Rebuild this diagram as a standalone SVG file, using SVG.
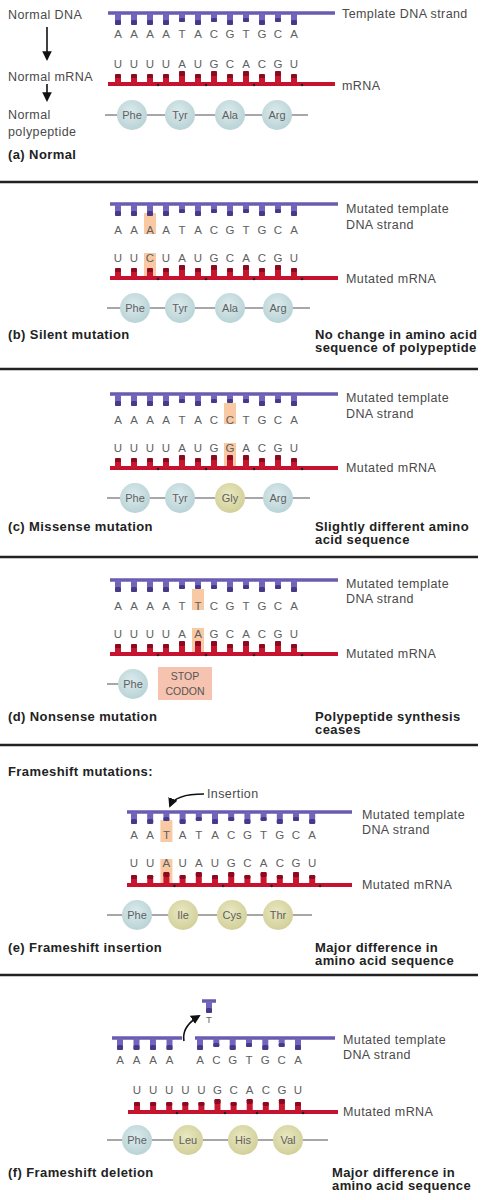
<svg xmlns="http://www.w3.org/2000/svg" xmlns:xlink="http://www.w3.org/1999/xlink" width="489" height="1200" viewBox="0 0 489 1200">
<style>
text{font-family:"Liberation Sans",Arial,sans-serif}
.lbl{font-size:12.5px;fill:#4a4a4a;letter-spacing:0.4px}
.ttl{font-size:13px;font-weight:bold;fill:#222;letter-spacing:0.4px}
.nt{font-size:11.5px;fill:#5f5f5f;text-anchor:middle}
.aa{font-size:11px;fill:#5f5f5f;text-anchor:middle}
.sc{font-size:10.5px;fill:#555;text-anchor:middle}
.sep{stroke:#222;stroke-width:2.5}
.dna{stroke:#6b5bb0;stroke-width:3.5;fill:none}
.rna{stroke:#c4122f;stroke-width:3.8;fill:none}
.pep{stroke:#8a8a8a;stroke-width:1.5}
.hl{fill:#f8c9a3}
.cb{fill:url(#gb)}
.cy{fill:url(#gy)}
.dot{fill:#222}
.arr{stroke:#111;stroke-width:1.6;fill:none}
</style>
<defs>
<radialGradient id="gb" cx="0.45" cy="0.4" r="0.6"><stop offset="0" stop-color="#dcebed"/><stop offset="1" stop-color="#b9d3d6"/></radialGradient>
<radialGradient id="gy" cx="0.45" cy="0.4" r="0.6"><stop offset="0" stop-color="#e9e8c2"/><stop offset="1" stop-color="#d2d099"/></radialGradient>
<g id="dP"><rect x="-3" y="0" width="6" height="12" rx="1.2" fill="#7364bb"/><rect x="-3" y="7" width="6" height="5" rx="1.5" fill="#47398a"/></g>
<g id="dY"><rect x="-3" y="0" width="6" height="9" rx="1.2" fill="#7364bb"/><rect x="-3" y="5" width="6" height="4" rx="1.5" fill="#47398a"/></g>
<g id="rP"><rect x="-3" y="-13" width="6" height="13" rx="1.2" fill="#c8162f"/><rect x="-3" y="-13" width="6" height="5" rx="1.5" fill="#8b0a20"/></g>
<g id="rY"><rect x="-3" y="-10" width="6" height="10" rx="1.2" fill="#c8162f"/><rect x="-3" y="-10" width="6" height="4" rx="1.5" fill="#8b0a20"/></g>
<marker id="ah" viewBox="0 0 10 10" refX="8" refY="5" markerWidth="6" markerHeight="6" orient="auto"><path d="M0,0 L10,5 L0,10 z" fill="#111"/></marker>
</defs>

<g id="separators">
<line class="sep" x1="0" y1="182" x2="478" y2="182"/>
<line class="sep" x1="0" y1="369" x2="478" y2="369"/>
<line class="sep" x1="0" y1="557" x2="478" y2="557"/>
<line class="sep" x1="0" y1="745" x2="478" y2="745"/>
<line class="sep" x1="0" y1="975" x2="478" y2="975"/>
</g>

<!-- Panel a -->
<g id="panel-a">
<g id="a-labels">
<text class="lbl" x="8" y="19">Normal DNA</text>
<text class="lbl" x="8" y="81">Normal mRNA</text>
<text class="lbl" x="8" y="119">Normal</text>
<text class="lbl" x="8" y="136">polypeptide</text>
<text class="ttl" x="8" y="159">(a) Normal</text>
<text class="lbl" x="342" y="18">Template DNA strand</text>
<text class="lbl" x="342" y="90">mRNA</text>
</g>
<g id="a-dna" transform="translate(0,13)">
<line class="dna" x1="108" y1="0" x2="335" y2="0"/>
<use href="#dP" x="118"/><use href="#dP" x="134"/><use href="#dP" x="150"/><use href="#dP" x="166"/><use href="#dY" x="182"/><use href="#dP" x="198"/><use href="#dY" x="214"/><use href="#dP" x="230"/><use href="#dY" x="246"/><use href="#dP" x="262"/><use href="#dY" x="278"/><use href="#dP" x="294"/>
<text class="nt" x="118 134 150 166 182 198 214 230 246 262 278 294" y="25">AAAATACGTGCA</text>
</g>
<g id="a-mrna" transform="translate(0,84)">
<line class="rna" x1="108" y1="0" x2="335" y2="0"/>
<use href="#rY" x="118"/><use href="#rY" x="134"/><use href="#rY" x="150"/><use href="#rY" x="166"/><use href="#rP" x="182"/><use href="#rY" x="198"/><use href="#rP" x="214"/><use href="#rY" x="230"/><use href="#rP" x="246"/><use href="#rY" x="262"/><use href="#rP" x="278"/><use href="#rY" x="294"/>
<circle class="dot" cx="158" cy="1" r="1.3"/><circle class="dot" cx="206" cy="1" r="1.3"/><circle class="dot" cx="254" cy="1" r="1.3"/><circle class="dot" cx="302" cy="1" r="1.3"/>
<text class="nt" x="118 134 150 166 182 198 214 230 246 262 278 294" y="-16">UUUUAUGCACGU</text>
</g>
<line class="pep" x1="105" y1="115" x2="308" y2="115"/>
<g id="a-phe"><circle class="cb" cx="132" cy="115" r="15"/><text class="aa" x="132" y="119">Phe</text></g>
<g id="a-tyr"><circle class="cb" cx="180" cy="115" r="15"/><text class="aa" x="180" y="119">Tyr</text></g>
<g id="a-ala"><circle class="cb" cx="230" cy="115" r="15"/><text class="aa" x="230" y="119">Ala</text></g>
<g id="a-arg"><circle class="cb" cx="277" cy="115" r="15"/><text class="aa" x="277" y="119">Arg</text></g>
</g>

<!-- Panel b -->
<g id="panel-b">
<g id="b-labels">
<text class="lbl" x="346" y="213">Mutated template</text>
<text class="lbl" x="346" y="229">DNA strand</text>
<text class="lbl" x="346" y="283">Mutated mRNA</text>
<text class="ttl" x="8" y="339">(b) Silent mutation</text>
<text class="ttl" x="315" y="339">No change in amino acid</text>
<text class="ttl" x="315" y="352">sequence of polypeptide</text>
</g>
<g id="b-dna" transform="translate(0,204)">
<rect class="hl" x="144" y="9" width="12" height="21"/>
<line class="dna" x1="110" y1="0" x2="338" y2="0"/>
<use href="#dP" x="118"/><use href="#dP" x="134"/><use href="#dP" x="150"/><use href="#dP" x="166"/><use href="#dY" x="182"/><use href="#dP" x="198"/><use href="#dY" x="214"/><use href="#dP" x="230"/><use href="#dY" x="246"/><use href="#dP" x="262"/><use href="#dY" x="278"/><use href="#dP" x="294"/>
<text class="nt" x="118 134 150 166 182 198 214 230 246 262 278 294" y="30">AAAATACGTGCA</text>
</g>
<g id="b-mrna" transform="translate(0,278)">
<rect class="hl" x="144" y="-25" width="12" height="24"/>
<line class="rna" x1="110" y1="0" x2="338" y2="0"/>
<use href="#rY" x="118"/><use href="#rY" x="134"/><use href="#rY" x="150"/><use href="#rY" x="166"/><use href="#rP" x="182"/><use href="#rY" x="198"/><use href="#rP" x="214"/><use href="#rY" x="230"/><use href="#rP" x="246"/><use href="#rY" x="262"/><use href="#rP" x="278"/><use href="#rY" x="294"/>
<circle class="dot" cx="158" cy="1" r="1.3"/><circle class="dot" cx="206" cy="1" r="1.3"/><circle class="dot" cx="254" cy="1" r="1.3"/><circle class="dot" cx="302" cy="1" r="1.3"/>
<text class="nt" x="118 134 150 166 182 198 214 230 246 262 278 294" y="-16">UUCUAUGCACGU</text>
</g>
<line class="pep" x1="107" y1="308" x2="310" y2="308"/>
<g id="b-phe"><circle class="cb" cx="135" cy="308" r="15"/><text class="aa" x="135" y="312">Phe</text></g>
<g id="b-tyr"><circle class="cb" cx="180" cy="308" r="15"/><text class="aa" x="180" y="312">Tyr</text></g>
<g id="b-ala"><circle class="cb" cx="230" cy="308" r="15"/><text class="aa" x="230" y="312">Ala</text></g>
<g id="b-arg"><circle class="cb" cx="278" cy="308" r="15"/><text class="aa" x="278" y="312">Arg</text></g>
</g>

<!-- Panel c -->
<g id="panel-c">
<g id="c-labels">
<text class="lbl" x="346" y="402">Mutated template</text>
<text class="lbl" x="346" y="418">DNA strand</text>
<text class="lbl" x="346" y="472">Mutated mRNA</text>
<text class="ttl" x="8" y="531">(c) Missense mutation</text>
<text class="ttl" x="315" y="531">Slightly different amino</text>
<text class="ttl" x="315" y="544">acid sequence</text>
</g>
<g id="c-dna" transform="translate(0,394)">
<rect class="hl" x="224" y="9" width="12" height="21"/>
<line class="dna" x1="110" y1="0" x2="338" y2="0"/>
<use href="#dP" x="118"/><use href="#dP" x="134"/><use href="#dP" x="150"/><use href="#dP" x="166"/><use href="#dY" x="182"/><use href="#dP" x="198"/><use href="#dY" x="214"/><use href="#dY" x="230"/><use href="#dY" x="246"/><use href="#dP" x="262"/><use href="#dY" x="278"/><use href="#dP" x="294"/>
<text class="nt" x="118 134 150 166 182 198 214 230 246 262 278 294" y="30">AAAATACCTGCA</text>
</g>
<g id="c-mrna" transform="translate(0,468)">
<rect class="hl" x="224" y="-25" width="12" height="24"/>
<line class="rna" x1="110" y1="0" x2="338" y2="0"/>
<use href="#rY" x="118"/><use href="#rY" x="134"/><use href="#rY" x="150"/><use href="#rY" x="166"/><use href="#rP" x="182"/><use href="#rY" x="198"/><use href="#rP" x="214"/><use href="#rP" x="230"/><use href="#rP" x="246"/><use href="#rY" x="262"/><use href="#rP" x="278"/><use href="#rY" x="294"/>
<circle class="dot" cx="158" cy="1" r="1.3"/><circle class="dot" cx="206" cy="1" r="1.3"/><circle class="dot" cx="254" cy="1" r="1.3"/><circle class="dot" cx="302" cy="1" r="1.3"/>
<text class="nt" x="118 134 150 166 182 198 214 230 246 262 278 294" y="-16">UUUUAUGGACGU</text>
</g>
<line class="pep" x1="107" y1="498" x2="310" y2="498"/>
<g id="c-phe"><circle class="cb" cx="135" cy="498" r="15"/><text class="aa" x="135" y="502">Phe</text></g>
<g id="c-tyr"><circle class="cb" cx="180" cy="498" r="15"/><text class="aa" x="180" y="502">Tyr</text></g>
<g id="c-gly"><circle class="cy" cx="230" cy="498" r="15"/><text class="aa" x="230" y="502">Gly</text></g>
<g id="c-arg"><circle class="cb" cx="278" cy="498" r="15"/><text class="aa" x="278" y="502">Arg</text></g>
</g>

<!-- Panel d -->
<g id="panel-d">
<g id="d-labels">
<text class="lbl" x="346" y="588">Mutated template</text>
<text class="lbl" x="346" y="603">DNA strand</text>
<text class="lbl" x="346" y="658">Mutated mRNA</text>
<text class="ttl" x="8" y="721">(d) Nonsense mutation</text>
<text class="ttl" x="315" y="721">Polypeptide synthesis</text>
<text class="ttl" x="315" y="734">ceases</text>
</g>
<g id="d-dna" transform="translate(0,580)">
<rect class="hl" x="192" y="9" width="12" height="21"/>
<line class="dna" x1="110" y1="0" x2="338" y2="0"/>
<use href="#dP" x="118"/><use href="#dP" x="134"/><use href="#dP" x="150"/><use href="#dP" x="166"/><use href="#dY" x="182"/><use href="#dY" x="198"/><use href="#dY" x="214"/><use href="#dP" x="230"/><use href="#dY" x="246"/><use href="#dP" x="262"/><use href="#dY" x="278"/><use href="#dP" x="294"/>
<text class="nt" x="118 134 150 166 182 198 214 230 246 262 278 294" y="30">AAAATTCGTGCA</text>
</g>
<g id="d-mrna" transform="translate(0,654)">
<rect class="hl" x="192" y="-26" width="12" height="25"/>
<line class="rna" x1="110" y1="0" x2="338" y2="0"/>
<use href="#rY" x="118"/><use href="#rY" x="134"/><use href="#rY" x="150"/><use href="#rY" x="166"/><use href="#rP" x="182"/><use href="#rP" x="198"/><use href="#rP" x="214"/><use href="#rY" x="230"/><use href="#rP" x="246"/><use href="#rY" x="262"/><use href="#rP" x="278"/><use href="#rY" x="294"/>
<circle class="dot" cx="158" cy="1" r="1.3"/><circle class="dot" cx="206" cy="1" r="1.3"/><circle class="dot" cx="254" cy="1" r="1.3"/><circle class="dot" cx="302" cy="1" r="1.3"/>
<text class="nt" x="118 134 150 166 182 198 214 230 246 262 278 294" y="-16">UUUUAAGCACGU</text>
</g>
<line class="pep" x1="107" y1="684" x2="125" y2="684"/>
<g id="d-phe"><circle class="cb" cx="133" cy="684" r="15"/><text class="aa" x="133" y="688">Phe</text></g>
<g id="d-stop"><rect x="158" y="667" width="54" height="33" fill="#f5c3af"/><text class="sc" x="185" y="680">STOP</text><text class="sc" x="185" y="695">CODON</text></g>
</g>

<!-- Panel e -->
<g id="panel-e">
<g id="e-labels">
<text class="ttl" x="8" y="776">Frameshift mutations:</text>
<text class="lbl" x="207" y="798">Insertion</text>
<text class="lbl" x="362" y="819">Mutated template</text>
<text class="lbl" x="362" y="834">DNA strand</text>
<text class="lbl" x="362" y="889">Mutated mRNA</text>
<text class="ttl" x="8" y="952">(e) Frameshift insertion</text>
<text class="ttl" x="315" y="952">Major difference in</text>
<text class="ttl" x="315" y="965">amino acid sequence</text>
</g>
<g id="e-dna" transform="translate(0,812)">
<rect class="hl" x="160.4" y="8" width="12" height="22"/>
<line class="dna" x1="127" y1="0" x2="352" y2="0"/>
<use href="#dP" x="134"/><use href="#dP" x="150.2"/><use href="#dY" x="166.4"/><use href="#dP" x="182.6"/><use href="#dY" x="198.8"/><use href="#dP" x="215"/><use href="#dY" x="231.2"/><use href="#dP" x="247.4"/><use href="#dY" x="263.6"/><use href="#dP" x="279.8"/><use href="#dY" x="296"/><use href="#dP" x="312.2"/>
<text class="nt" x="134 150.2 166.4 182.6 198.8 215 231.2 247.4 263.6 279.8 296 312.2" y="27">AATATACGTGCA</text>
</g>
<g id="e-mrna" transform="translate(0,885)">
<rect class="hl" x="160.4" y="-26" width="12" height="24"/>
<line class="rna" x1="127" y1="0" x2="352" y2="0"/>
<use href="#rY" x="134"/><use href="#rY" x="150.2"/><use href="#rP" x="166.4"/><use href="#rY" x="182.6"/><use href="#rP" x="198.8"/><use href="#rY" x="215"/><use href="#rP" x="231.2"/><use href="#rY" x="247.4"/><use href="#rP" x="263.6"/><use href="#rY" x="279.8"/><use href="#rP" x="296"/><use href="#rY" x="312.2"/>
<circle class="dot" cx="174.5" cy="1" r="1.3"/><circle class="dot" cx="223" cy="1" r="1.3"/><circle class="dot" cx="271.6" cy="1" r="1.3"/><circle class="dot" cx="320" cy="1" r="1.3"/>
<text class="nt" x="134 150.2 166.4 182.6 198.8 215 231.2 247.4 263.6 279.8 296 312.2" y="-18">UUAUAUGCACGU</text>
</g>
<line class="pep" x1="107" y1="915" x2="312" y2="915"/>
<g id="e-phe"><circle class="cb" cx="137" cy="915" r="15"/><text class="aa" x="137" y="919">Phe</text></g>
<g id="e-ile"><circle class="cy" cx="183" cy="915" r="15"/><text class="aa" x="183" y="919">Ile</text></g>
<g id="e-cys"><circle class="cy" cx="232" cy="915" r="15"/><text class="aa" x="232" y="919">Cys</text></g>
<g id="e-thr"><circle class="cy" cx="278" cy="915" r="15"/><text class="aa" x="278" y="919">Thr</text></g>
</g>

<!-- Panel f -->
<g id="panel-f">
<g id="f-labels">
<text class="lbl" x="343" y="1044">Mutated template</text>
<text class="lbl" x="343" y="1059">DNA strand</text>
<text class="lbl" x="343" y="1116">Mutated mRNA</text>
<text class="ttl" x="8" y="1177">(f) Frameshift deletion</text>
<text class="ttl" x="332" y="1177">Major difference in</text>
<text class="ttl" x="332" y="1190">amino acid sequence</text>
</g>
<g id="f-deleted-T">
<line class="dna" x1="202" y1="1001" x2="216" y2="1001"/>
<use href="#dP" x="209" y="1001"/>
<text class="nt" x="209" y="1023" style="font-size:9.5px">T</text>
</g>
<g id="f-dna" transform="translate(0,1038)">
<line class="dna" x1="112" y1="0" x2="182" y2="0"/>
<line class="dna" x1="195" y1="0" x2="335" y2="0"/>
<use href="#dP" x="120"/><use href="#dP" x="136.5"/><use href="#dP" x="153"/><use href="#dP" x="169.5"/>
<use href="#dP" x="200"/><use href="#dY" x="216.3"/><use href="#dP" x="232.7"/><use href="#dY" x="249"/><use href="#dP" x="265.3"/><use href="#dY" x="281.7"/><use href="#dP" x="298"/>
<text class="nt" x="120 136.5 153 169.5 200 216.3 232.7 249 265.3 281.7 298" y="26">AAAAACGTGCA</text>
</g>
<g id="f-mrna" transform="translate(0,1112)">
<line class="rna" x1="128" y1="0" x2="338" y2="0"/>
<use href="#rY" x="137"/><use href="#rY" x="153.1"/><use href="#rY" x="169.2"/><use href="#rY" x="185.3"/><use href="#rY" x="201.4"/><use href="#rP" x="217.5"/><use href="#rY" x="233.6"/><use href="#rP" x="249.7"/><use href="#rY" x="265.8"/><use href="#rP" x="281.9"/><use href="#rY" x="298"/>
<circle class="dot" cx="177" cy="1" r="1.3"/><circle class="dot" cx="225" cy="1" r="1.3"/><circle class="dot" cx="257" cy="1" r="1.3"/><circle class="dot" cx="303" cy="1" r="1.3"/>
<text class="nt" x="137 153.1 169.2 185.3 201.4 217.5 233.6 249.7 265.8 281.9 298" y="-18">UUUUUGCACGU</text>
</g>
<line class="pep" x1="107" y1="1140" x2="328" y2="1140"/>
<g id="f-phe"><circle class="cb" cx="137" cy="1140" r="15"/><text class="aa" x="137" y="1144">Phe</text></g>
<g id="f-leu"><circle class="cy" cx="188" cy="1140" r="15"/><text class="aa" x="188" y="1144">Leu</text></g>
<g id="f-his"><circle class="cy" cx="243" cy="1140" r="15"/><text class="aa" x="243" y="1144">His</text></g>
<g id="f-val"><circle class="cy" cx="288" cy="1140" r="15"/><text class="aa" x="288" y="1144">Val</text></g>
</g>

<g id="connectors">
<line class="arr" x1="47" y1="27" x2="47" y2="59" marker-end="url(#ah)"/>
<line class="arr" x1="47" y1="84" x2="47" y2="100" marker-end="url(#ah)"/>
<path class="arr" d="M204,794 C190,794 174,796 170,806" marker-end="url(#ah)"/>
<path class="arr" d="M184,1041 C182,1030 189,1022 199,1016" marker-end="url(#ah)"/>
</g>
</svg>
